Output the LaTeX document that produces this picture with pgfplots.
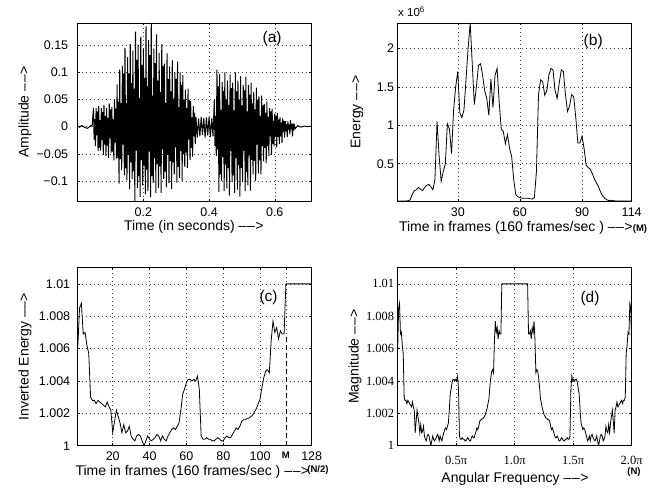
\documentclass[border=0pt]{standalone}
\usepackage{fontspec}
\setmainfont{Liberation Sans}
\newfontfamily\timesfont{Liberation Serif}
\usepackage{pgfplots}
\usepackage{pgfplotstable}
\pgfplotsset{compat=1.18}

% frame energy, in units of 10^6
\pgfplotstableread{
f e
1 0.016
2 0.016
3 0.016
4 0.016
5 0.016
6 0.018
7 0.03
8 0.10
9 0.15
10 0.16
11 0.19
12 0.17
13 0.15
14 0.19
15 0.22
16 0.23
17 0.20
18 0.16
19 0.30
20 1.05
21 0.60
22 0.27
23 0.40
24 0.50
25 1.02
26 0.95
27 0.63
28 1.20
29 1.50
30 1.70
31 1.16
32 1.10
33 1.20
34 1.60
35 2.00
36 2.33
37 1.80
38 1.27
39 1.50
40 1.78
41 1.80
42 1.65
43 1.45
44 1.35
45 1.13
46 1.60
47 1.23
48 1.65
49 1.74
50 1.30
51 0.95
52 0.92
53 0.76
54 0.88
55 0.70
56 0.60
57 0.30
58 0.10
59 0.07
60 0.06
61 0.05
62 0.05
63 0.05
64 0.05
65 0.045
66 0.04
67 0.06
68 0.40
69 1.40
70 1.59
71 1.57
72 1.39
73 1.45
74 1.65
75 1.74
76 1.72
77 1.45
78 1.35
79 1.55
80 1.72
81 1.70
82 1.40
83 1.18
84 1.25
85 1.40
86 1.37
87 1.10
88 0.77
89 0.77
90 0.86
91 0.70
92 0.48
93 0.45
94 0.43
95 0.37
96 0.30
97 0.25
98 0.20
99 0.13
100 0.08
101 0.05
102 0.03
103 0.02
104 0.025
105 0.02
106 0.016
107 0.016
108 0.016
109 0.016
110 0.016
111 0.016
112 0.016
113 0.016
114 0.016
}\energytable

% inverted energy, frames 1..128
\pgfplotstableread{
f v
1 1.0060
2 1.0085
3 1.0088
4 1.0069
5 1.0070
6 1.0062
7 1.0057
8 1.0030
9 1.0028
10 1.0028
11 1.0026
12 1.0028
13 1.0027
14 1.0026
15 1.0025
16 1.0024
17 1.0027
18 1.0024
19 1.0022
20 1.0008
21 1.0015
22 1.0022
23 1.0018
24 1.0014
25 1.0008
26 1.0013
27 1.0008
28 1.0009
29 1.0012
30 1.0006
31 1.0004
32 1.0003
33 1.0006
34 1.0007
35 1.0006
36 1.0003
37 1.0000
38 1.0003
39 1.0006
40 1.0004
41 1.0003
42 1.0004
43 1.0005
44 1.0007
45 1.0006
46 1.0003
47 1.0006
48 1.0004
49 1.0003
50 1.0006
51 1.0008
52 1.0010
53 1.0011
54 1.0010
55 1.0012
56 1.0014
57 1.0022
58 1.0032
59 1.0035
60 1.0039
61 1.0041
62 1.0041
63 1.0040
64 1.0041
65 1.0040
66 1.0043
67 1.0035
68 1.0006
69 1.0004
70 1.0004
71 1.0005
72 1.0004
73 1.0004
74 1.0003
75 1.0003
76 1.0004
77 1.0005
78 1.0004
79 1.0003
80 1.0003
81 1.0005
82 1.0006
83 1.0005
84 1.0005
85 1.0007
86 1.0009
87 1.0011
88 1.0010
89 1.0012
90 1.0015
91 1.0016
92 1.0016
93 1.0017
94 1.0017
95 1.0018
96 1.0019
97 1.0021
98 1.0023
99 1.0026
100 1.0029
101 1.0036
102 1.0042
103 1.0046
104 1.0047
105 1.0045
106 1.0065
107 1.0077
108 1.0070
109 1.0073
110 1.0066
111 1.0071
112 1.0069
113 1.0069
114 1.0100
115 1.0100
116 1.0100
117 1.0100
118 1.0100
119 1.0100
120 1.0100
121 1.0100
122 1.0100
123 1.0100
124 1.0100
125 1.0100
126 1.0100
127 1.0100
128 1.0100
}\invtable

\newcommand{\arr}{–\kern0.8pt–\kern0.3pt>}
\pgfplotsset{
  matlab/.style={
    scale only axis, width=234pt, height=178pt, anchor=south west,
    grid=major,
    grid style={black!75, line width=0.5pt, dash pattern=on 0.6pt off 3.4pt},
    tick align=inside, major tick length=2.5pt,
    axis line style={line width=0.7pt},
    every tick/.style={black, line width=0.5pt},
    ticklabel style={font=\fontsize{12.5}{14}\selectfont},
    label style={font=\fontsize{14}{16}\selectfont},
    xticklabel style={yshift=-3pt},
  },
  curve/.style={black, line width=0.8pt},
}

\begin{document}
\begin{tikzpicture}
\path[use as bounding box] (0,0) rectangle (660pt,488pt);

% (a)
\begin{axis}[matlab, at={(77.7pt,287pt)},
  xmin=0, xmax=0.7125, ymin=-0.137, ymax=0.191,
  xtick={0.2,0.4,0.6}, xticklabels={0.2,0.4,0.6},
  ytick={-0.1,-0.05,0,0.05,0.1,0.15},
  yticklabels={−0.1,−0.05,0,0.05,0.1,0.15},
  yticklabel style={xshift=-6pt},
  xlabel={Time (in seconds) \arr},
  ylabel={Amplitude \arr},
  xlabel style={at={(axis description cs:0.496,-0.144)}, anchor=center},
  ylabel style={at={(axis description cs:-0.225,0.5)}, anchor=center},
]
\addplot[curve, line width=1pt] coordinates {
(0.000,0.001) (0.006,-0.001) (0.012,0.002) (0.018,0.000) (0.024,-0.002) (0.030,-0.003) (0.036,0.000) (0.040,0.002) (0.044,0.001)
(0.048,0.035) (0.050,-0.024) (0.052,0.014) (0.054,-0.036)
(0.056,0.034) (0.058,-0.016) (0.060,0.028) (0.062,-0.045)
(0.064,0.038) (0.066,-0.039) (0.068,0.012) (0.070,-0.044)
(0.072,0.034) (0.074,-0.025) (0.076,0.027) (0.078,-0.052)
(0.080,0.040) (0.082,-0.033) (0.084,0.020) (0.086,-0.054)
(0.088,0.034) (0.090,-0.035) (0.092,0.016) (0.094,-0.058)
(0.096,0.043) (0.098,-0.021) (0.100,0.032) (0.102,-0.048)
(0.104,0.036) (0.106,-0.046) (0.108,0.014) (0.110,-0.062)
(0.112,0.050) (0.114,-0.029) (0.116,0.033) (0.118,-0.059)
(0.120,0.078) (0.122,-0.058) (0.124,0.046) (0.126,-0.105)
(0.128,0.105) (0.130,-0.060) (0.132,0.044) (0.134,-0.080)
(0.136,0.112) (0.138,-0.033) (0.140,0.098) (0.142,-0.090)
(0.144,0.145) (0.146,-0.077) (0.148,0.044) (0.150,-0.099)
(0.152,0.128) (0.154,-0.052) (0.156,0.098) (0.158,-0.115)
(0.160,0.152) (0.162,-0.066) (0.164,0.080) (0.166,-0.096)
(0.168,0.140) (0.170,-0.082) (0.172,0.070) (0.174,-0.137)
(0.176,0.175) (0.178,-0.044) (0.180,0.123) (0.182,-0.113)
(0.184,0.151) (0.186,-0.091) (0.188,0.053) (0.190,-0.130)
(0.192,0.166) (0.194,-0.061) (0.196,0.114) (0.198,-0.108)
(0.200,0.144) (0.202,-0.072) (0.204,0.090) (0.206,-0.124)
(0.208,0.185) (0.210,-0.079) (0.212,0.074) (0.214,-0.119)
(0.216,0.160) (0.218,-0.046) (0.220,0.132) (0.222,-0.130)
(0.224,0.191) (0.226,-0.091) (0.228,0.057) (0.230,-0.104)
(0.232,0.144) (0.234,-0.058) (0.236,0.117) (0.238,-0.122)
(0.240,0.170) (0.242,-0.069) (0.244,0.085) (0.246,-0.113)
(0.248,0.136) (0.250,-0.073) (0.252,0.064) (0.254,-0.122)
(0.256,0.152) (0.258,-0.042) (0.260,0.112) (0.262,-0.096)
(0.264,0.116) (0.266,-0.083) (0.268,0.044) (0.270,-0.112)
(0.272,0.135) (0.274,-0.052) (0.276,0.088) (0.278,-0.104)
(0.280,0.111) (0.282,-0.063) (0.284,0.065) (0.286,-0.115)
(0.288,0.122) (0.290,-0.066) (0.292,0.051) (0.294,-0.088)
(0.296,0.100) (0.298,-0.038) (0.300,0.088) (0.302,-0.103)
(0.304,0.120) (0.306,-0.074) (0.308,0.036) (0.310,-0.095)
(0.312,0.100) (0.314,-0.045) (0.316,0.077) (0.318,-0.100)
(0.320,0.095) (0.322,-0.051) (0.324,0.050) (0.326,-0.074)
(0.328,0.068) (0.330,-0.048) (0.332,0.034) (0.334,-0.076)
(0.336,0.070) (0.338,-0.024) (0.340,0.049) (0.342,-0.061)
(0.344,0.047) (0.346,-0.039) (0.348,0.017) (0.350,-0.055)
(0.352,0.038) (0.354,-0.018) (0.356,0.026) (0.358,-0.032)
(0.360,0.018) (0.364,-0.020) (0.368,0.015) (0.372,-0.018) (0.376,0.018) (0.380,-0.015) (0.384,0.016)
(0.388,-0.020) (0.392,0.017) (0.396,-0.016) (0.400,0.018) (0.404,-0.019) (0.408,0.015) (0.412,-0.018)
(0.416,0.050) (0.418,-0.036) (0.420,0.020) (0.422,-0.054)
(0.424,0.105) (0.426,-0.042) (0.428,0.074) (0.430,-0.120)
(0.432,0.097) (0.434,-0.088) (0.436,0.031) (0.438,-0.100)
(0.440,0.082) (0.442,-0.056) (0.444,0.066) (0.446,-0.119)
(0.448,0.100) (0.450,-0.070) (0.452,0.050) (0.454,-0.114)
(0.456,0.085) (0.458,-0.076) (0.460,0.040) (0.462,-0.127)
(0.464,0.096) (0.466,-0.045) (0.468,0.071) (0.470,-0.102)
(0.472,0.081) (0.474,-0.090) (0.476,0.030) (0.478,-0.122)
(0.480,0.100) (0.482,-0.058) (0.484,0.065) (0.486,-0.116)
(0.488,0.085) (0.490,-0.071) (0.492,0.050) (0.494,-0.129)
(0.496,0.093) (0.498,-0.076) (0.500,0.039) (0.502,-0.102)
(0.504,0.077) (0.506,-0.044) (0.508,0.067) (0.510,-0.119)
(0.512,0.092) (0.514,-0.084) (0.516,0.028) (0.518,-0.108)
(0.520,0.077) (0.522,-0.053) (0.524,0.059) (0.526,-0.118)
(0.528,0.081) (0.530,-0.061) (0.532,0.043) (0.534,-0.088)
(0.536,0.064) (0.538,-0.063) (0.540,0.032) (0.542,-0.100)
(0.544,0.072) (0.546,-0.033) (0.548,0.050) (0.550,-0.086)
(0.552,0.056) (0.554,-0.062) (0.556,0.020) (0.558,-0.088)
(0.560,0.057) (0.562,-0.036) (0.564,0.039) (0.566,-0.064)
(0.568,0.042) (0.570,-0.039) (0.572,0.026) (0.574,-0.067)
(0.576,0.046) (0.578,-0.036) (0.580,0.018) (0.582,-0.054)
(0.584,0.034) (0.586,-0.018) (0.588,0.028) (0.590,-0.052)
(0.592,0.033) (0.594,-0.032) (0.596,0.011) (0.598,-0.036)
(0.600,0.024) (0.602,-0.018) (0.604,0.020) (0.606,-0.038)
(0.608,0.025) (0.610,-0.019) (0.612,0.013) (0.614,-0.032)
(0.616,0.017) (0.618,-0.018) (0.620,0.008) (0.622,-0.030)
(0.624,0.015) (0.626,-0.009) (0.628,0.011) (0.630,-0.020)
(0.632,0.010) (0.634,-0.008) (0.636,0.005) (0.638,-0.019)
(0.640,0.010) (0.642,-0.006) (0.644,0.004) (0.646,-0.014)
(0.648,0.012) (0.650,-0.005) (0.652,0.005) (0.654,-0.018)
(0.656,0.006) (0.658,-0.003) (0.660,0.002) (0.662,-0.004)
(0.670,0.002) (0.680,-0.001) (0.690,0.001) (0.700,0.000) (0.7125,0.001)
};
\node[font=\fontsize{15.5}{17}\selectfont] at (axis cs:0.592,0.163) {(a)};
\end{axis}

% (b)
\begin{axis}[matlab, at={(397.7pt,287pt)},
  xmin=1, xmax=114, ymin=0.015, ymax=2.33,
  xtick={30,60,90,114}, xticklabels={30,60,90,114},
  ytick={0.5,1,1.5,2}, yticklabels={0.5,1,1.5,2},
  xlabel={Time in frames (160 frames/sec ) \arr},
  ylabel={Energy \arr},
  xlabel style={at={(axis description cs:0.505,-0.149)}, anchor=center},
  ylabel style={at={(axis description cs:-0.174,0.5)}, anchor=center},
]
\addplot[curve] table[x=f, y=e] {\energytable};
\node[font=\fontsize{15.5}{17}\selectfont] at (axis cs:95.4,2.086) {(b)};
\end{axis}
\node[anchor=base west, inner sep=0pt, font=\fontsize{11.5}{12}\selectfont]
  at (398pt,471pt) {x 10\textsuperscript{6}};
\node[font=\bfseries\fontsize{9.5}{10}\selectfont, inner sep=0pt]
  at (640pt,259pt) {(M)};

% (c)
\begin{axis}[matlab, at={(77.7pt,42.3pt)},
  xmin=1, xmax=128, ymin=1, ymax=1.011,
  xtick={20,40,60,80,100,114,128},
  xticklabels={20,40,60,80,100,{\bfseries\fontsize{9.5}{10}\selectfont M},128},
  ytick={1,1.002,1.004,1.006,1.008,1.01},
  yticklabels={1,1.002,1.004,1.006,1.008,1.01},
  yticklabel style={xshift=-4pt},
  xlabel={Time in frames (160 frames/sec ) \arr},
  ylabel={Inverted Energy \arr},
  xlabel style={at={(axis description cs:0.49,-0.146)}, anchor=center},
  ylabel style={at={(axis description cs:-0.225,0.5)}, anchor=center},
]
\addplot[curve] table[x=f, y=v] {\invtable};
\addplot[black, line width=0.8pt, dash pattern=on 5pt off 3pt] coordinates {(114,1) (114,1.0069)};
\node[font=\fontsize{15.5}{17}\selectfont] at (axis cs:104.6,1.00918) {(c)};
\end{axis}
\node[font=\bfseries\fontsize{9.5}{10}\selectfont, inner sep=0pt]
  at (318pt,18pt) {(N/2)};

% (d)
\begin{axis}[matlab, at={(397.7pt,42.3pt)},
  xmin=0, xmax=2, ymin=1, ymax=1.011,
  xtick={0.5,1,1.5,2},
  xticklabels={0.5π,1.0π,1.5π,2.0π},
  ytick={1,1.002,1.004,1.006,1.008,1.01},
  yticklabels={1,1.002,1.004,1.006,1.008,1.01},
  ticklabel style={font=\timesfont\fontsize{12.5}{14}\selectfont},
  xticklabel style={yshift=-4pt},
  xlabel={Angular Frequency \arr},
  ylabel={Magnitude \arr},
  xlabel style={at={(axis description cs:0.501,-0.186)}, anchor=center},
  ylabel style={at={(axis description cs:-0.182,0.5)}, anchor=center},
]
\addplot[curve] table[x expr={(\thisrow{f}-1)/127}, y=v] {\invtable};
\addplot[curve] table[x expr={2-(\thisrow{f}-1)/127}, y=v] {\invtable};
\node[font=\fontsize{15.5}{17}\selectfont] at (axis cs:1.644,1.00907) {(d)};
\end{axis}
\node[font=\bfseries\fontsize{9.5}{10}\selectfont, inner sep=0pt]
  at (634pt,16pt) {(N)};
\end{tikzpicture}
\end{document}
